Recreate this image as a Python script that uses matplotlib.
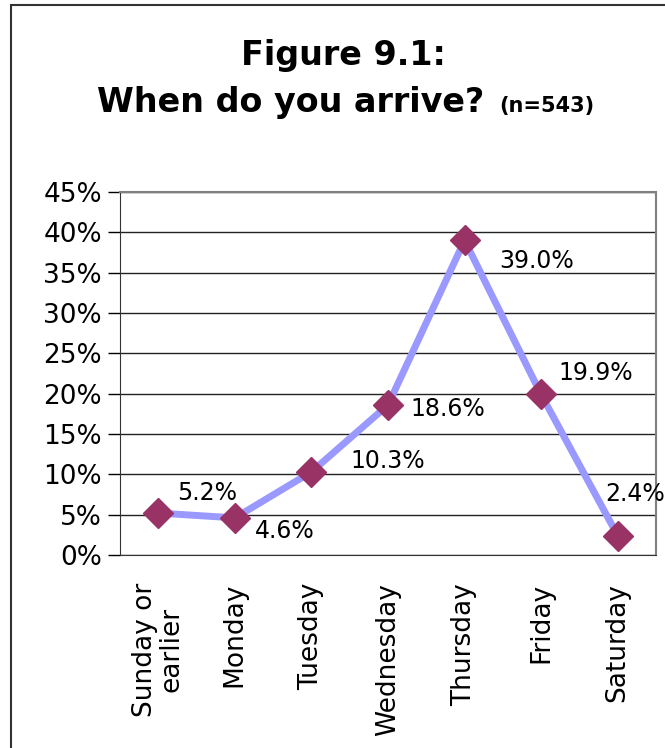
import matplotlib.pyplot as plt
from matplotlib.patches import Rectangle

plt.rcParams['font.family'] = ['DejaVu Sans']

# 到达日期分布
days = ['Sunday or\nearlier', 'Monday', 'Tuesday', 'Wednesday', 'Thursday', 'Friday', 'Saturday']
share = [5.2, 4.6, 10.3, 18.6, 39.0, 19.9, 2.4]
# 数据标签相对偏移（像素）
label_dx = [49, 50, 76, 60, 72, 55, 17]
label_dy = [20, -13, 11, -4, -21, 21, 42]

fig = plt.figure(figsize=(6.65, 7.48), dpi=100)

# 外框
fig.patches.append(Rectangle((11 / 665, -0.1), 1.0, 1 - 5 / 748 + 0.1,
                             transform=fig.transFigure, fill=False,
                             edgecolor='#333333', linewidth=1.5))

ax = fig.add_axes([120 / 665, 193 / 748, 536 / 665, 363 / 748])
x = list(range(len(days)))
ax.plot(x, share, color='#9999FF', linewidth=5, zorder=3)
ax.plot(x, share, linestyle='none', marker='D', markersize=15,
        color='#993366', zorder=4)

for i, v in enumerate(share):
    ax.annotate('%.1f%%' % v, (i, v), xytext=(label_dx[i], label_dy[i]),
                textcoords='offset pixels', ha='center', va='center',
                fontsize=17, annotation_clip=False, zorder=5)

ax.set_xlim(-0.5, len(days) - 0.5)
ax.set_ylim(0, 45)
ax.set_yticks(range(0, 50, 5))
ax.set_yticklabels(['%d%%' % t for t in range(0, 50, 5)], fontsize=19)
ax.yaxis.grid(True, color='#222222', linewidth=1)
ax.set_axisbelow(True)
ax.tick_params(axis='y', length=9, width=1, direction='out', pad=4)
ax.set_xticks(x)
ax.set_xticklabels(days, rotation=90, fontsize=19, va='top', ha='center',
                   multialignment='center', linespacing=1.0)
ax.tick_params(axis='x', length=0, pad=20)

for s in ['top', 'right']:
    ax.spines[s].set_color('#808080')
    ax.spines[s].set_linewidth(1.5)
ax.spines['left'].set_color('#333333')
ax.spines['bottom'].set_color('#333333')

# 标题
fig.text(343 / 665, 1 - 65 / 748, 'Figure 9.1:', ha='center', va='baseline',
         fontsize=24, fontweight='bold')
t1 = fig.text(0, 1 - 112 / 748, 'When do you arrive?', ha='left',
              va='baseline', fontsize=24, fontweight='bold')
t2 = fig.text(0, 1 - 112 / 748, '(n=543)', ha='left', va='baseline',
              fontsize=15, fontweight='bold')
r = fig.canvas.get_renderer()
w1 = t1.get_window_extent(renderer=r).width
w2 = t2.get_window_extent(renderer=r).width
gap = 15
x0 = 346 - (w1 + gap + w2) / 2
t1.set_x(x0 / 665)
t2.set_x((x0 + w1 + gap) / 665)

fig.savefig('out.png', dpi=100)
